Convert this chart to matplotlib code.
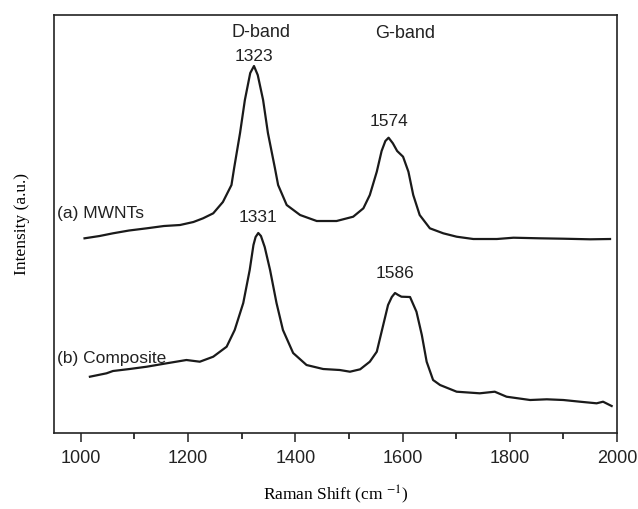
import numpy as np
import matplotlib
matplotlib.use('Agg')
import matplotlib.pyplot as plt
from matplotlib.ticker import MultipleLocator

plt.rcParams['font.family'] = ['Liberation Sans', 'DejaVu Sans']
plt.rcParams['mathtext.fontset'] = 'stix'

# Raman spectrum (a) MWNTs
shift_a = [1007, 1035, 1060, 1090, 1123, 1155, 1185, 1210, 1228, 1247, 1265,
           1281, 1286, 1297, 1306, 1316, 1323, 1330, 1340, 1349, 1362, 1368,
           1384, 1409, 1440, 1477, 1508, 1527, 1539, 1552, 1561, 1568, 1574,
           1582, 1590, 1601, 1611, 1620, 1632, 1651, 1676, 1701, 1732, 1776,
           1807, 1856, 1900, 1950, 1987]
inten_a = [194.7, 197, 199.7, 202.5, 204.7, 207, 208, 211, 214.7, 219.7, 231,
           248, 265, 300, 333, 360, 367, 358, 333, 300, 265, 248,
           228, 218, 212, 212, 216.3, 224.7, 238, 261.3, 282, 292, 295.3,
           289.7, 282, 276.3, 261.3, 238, 218, 204.7, 199.7, 196.3, 194, 194,
           195.3, 194.7, 194.3, 193.7, 194]

# Raman spectrum (b) composite
shift_b = [1017, 1048, 1060, 1091, 1123, 1160, 1197, 1222, 1247, 1272, 1287,
           1303, 1315, 1322, 1326, 1331, 1336, 1343, 1353, 1365, 1377, 1396,
           1421, 1452, 1483, 1502, 1521, 1539, 1552, 1564, 1573, 1580, 1586,
           1592, 1598, 1614, 1626, 1636, 1645, 1657, 1670, 1701, 1744, 1772,
           1794, 1838, 1869, 1900, 1931, 1962, 1974, 1990]
inten_b = [56.3, 59.7, 62, 64, 66.3, 69.7, 73, 71.3, 76.3, 86.3, 103,
           130, 163, 188, 196, 200, 197, 186, 163, 130, 103, 80,
           68, 64, 63, 61.3, 63.7, 71.3, 81.3, 108, 128, 136, 140,
           138, 136.3, 136, 121.3, 98, 71.3, 53, 48, 41.3, 39.7, 41.3,
           36.3, 33, 33.7, 33, 31.3, 29.7, 31.3, 27]

# peak labels: position, curve height and gap above the peak
peak_pos = [1323, 1574, 1331, 1586]
peak_int = [367, 295.3, 200, 140]
peak_gap = [2, 9, 8, 12]

fig = plt.figure(figsize=(6.38, 5.09), dpi=100)
ax = fig.add_axes([0.0846, 0.1493, 0.8825, 0.8212])

ax.plot(shift_a, inten_a, color='#1a1a1a', lw=1.6)
ax.plot(shift_b, inten_b, color='#1a1a1a', lw=1.6)

for p, h, g in zip(peak_pos, peak_int, peak_gap):
    ax.text(p, h + g, str(p), ha='center', va='bottom', fontsize=12.5,
            color='#222222')

ax.text(1336, 401, 'D-band', ha='center', va='center', fontsize=13, color='#222222')
ax.text(1604, 400, 'G-band', ha='center', va='center', fontsize=13, color='#222222')
ax.text(956, 220, '(a) MWNTs', ha='left', va='center', fontsize=12.5, color='#222222')
ax.text(955, 75, '(b) Composite', ha='left', va='center', fontsize=12.5, color='#222222')

ax.set_xlim(950, 2000)
ax.set_ylim(0, 418)
ax.xaxis.set_major_locator(MultipleLocator(200))
ax.xaxis.set_minor_locator(MultipleLocator(100))
ax.set_yticks([])
ax.tick_params(axis='x', which='major', direction='out', length=6.5, width=1.1,
               labelsize=13, pad=6, colors='#222222')
ax.tick_params(axis='x', which='minor', direction='out', length=4, width=1.1)
for s in ax.spines.values():
    s.set_linewidth(1.2)
    s.set_color('#222222')

ax.set_xlabel(r'Raman Shift (cm $^{-1}$)', family='Liberation Serif', fontsize=12.5,
              labelpad=12)
ax.set_ylabel('Intensity (a.u.)', family='Liberation Serif', fontsize=12.5,
              labelpad=17)

fig.savefig('out.png', dpi=100)
